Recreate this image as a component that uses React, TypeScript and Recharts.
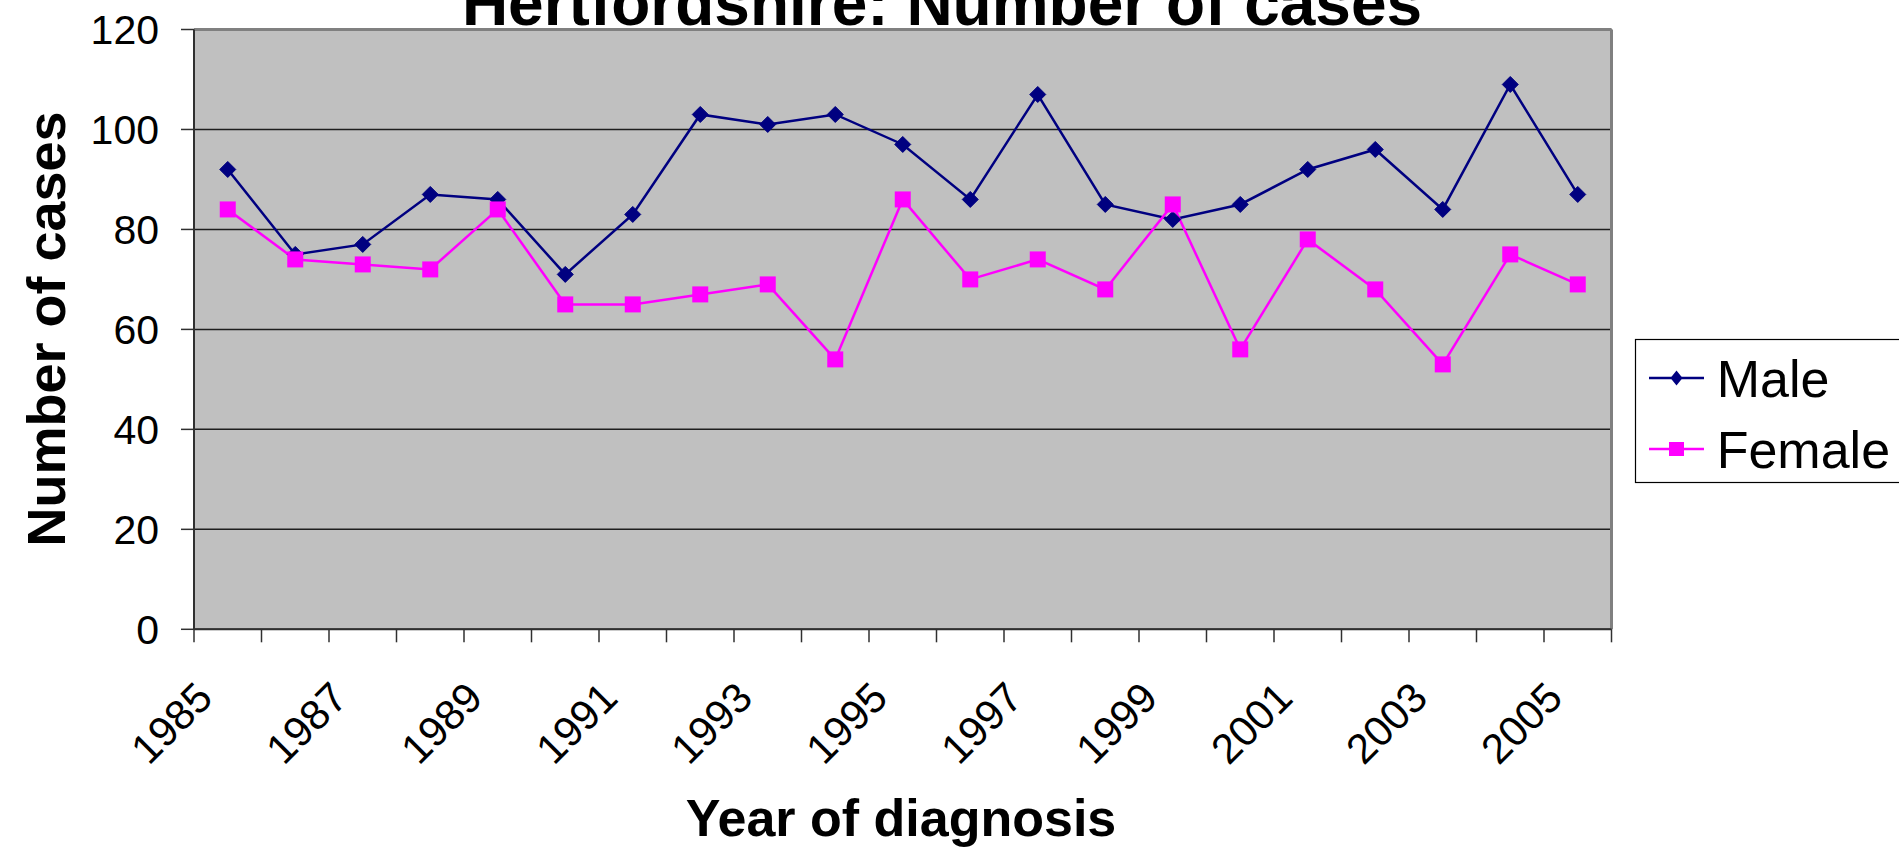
import React from 'react';
import { LineChart, Line, XAxis, YAxis, CartesianGrid, ReferenceLine, Legend } from 'recharts';

// ---------- data ----------
const years = [1985, 1986, 1987, 1988, 1989, 1990, 1991, 1992, 1993, 1994, 1995, 1996, 1997, 1998, 1999, 2000, 2001, 2002, 2003, 2004, 2005];
const maleCases = [92, 75, 77, 87, 86, 71, 83, 103, 101, 103, 97, 86, 107, 85, 82, 85, 92, 96, 84, 109, 87];
const femaleCases = [84, 74, 73, 72, 84, 65, 65, 67, 69, 54, 86, 70, 74, 68, 85, 56, 78, 68, 53, 75, 69];
const yTicks = [0, 20, 40, 60, 80, 100, 120];
const xLabelYears = [1985, 1987, 1989, 1991, 1993, 1995, 1997, 1999, 2001, 2003, 2005];
const seriesNames = ['Male', 'Female'];
const chartTitle = 'Hertfordshire: Number of cases';
const xTitle = 'Year of diagnosis';
const yTitle = 'Number of cases';

// ---------- styles ----------
const FONT = '"Liberation Sans", Arial, sans-serif';
const NAVY = '#000080';
const MAGENTA = '#FF00FF';
const AXIS = '#303030';

const data = years.map((year, i) => ({ year, male: maleCases[i], female: femaleCases[i] }));
const boundaries = [...years.map((y) => y - 0.5), years[years.length - 1] + 0.5];
const xDomain: [number, number] = [boundaries[0], boundaries[boundaries.length - 1]];

const series = [
  { key: 'male', name: seriesNames[0], color: NAVY, marker: 'diamond' },
  { key: 'female', name: seriesNames[1], color: MAGENTA, marker: 'square' },
];

const Diamond = (props: any) => {
  const { cx, cy, index } = props;
  if (cx == null || cy == null) return <g key={`dm-${index}`} />;
  const r = 8;
  return (
    <polygon
      key={`dm-${index}`}
      points={`${cx},${cy - r} ${cx + r},${cy} ${cx},${cy + r} ${cx - r},${cy}`}
      fill={NAVY}
      stroke={NAVY}
      strokeWidth={1}
    />
  );
};

const Square = (props: any) => {
  const { cx, cy, index } = props;
  if (cx == null || cy == null) return <g key={`sq-${index}`} />;
  const r = 8;
  return <rect key={`sq-${index}`} x={cx - r} y={cy - r} width={2 * r} height={2 * r} fill={MAGENTA} />;
};

const EmptyTick = () => <g />;

const YearTick = (props: any) => {
  const { x, y, payload } = props;
  return (
    <g transform={`translate(${x - 13},${y + 70})`}>
      <text transform="rotate(-45)" textAnchor="end" fontSize={42} fill="#000" fontFamily={FONT}>
        {payload.value}
      </text>
    </g>
  );
};

const LegendBox = (props: any) => {
  const payload: any[] = props.payload ?? [];
  const ordered = series
    .map((s) => ({ cfg: s, entry: payload.find((p: any) => p.dataKey === s.key) }))
    .filter((o) => o.entry);
  return (
    <svg width={300} height={146} style={{ display: 'block', overflow: 'visible' }}>
      <rect x={0.5} y={0.5} width={298} height={143} fill="#fff" stroke="#000" strokeWidth={1.2} />
      {ordered.map(({ cfg, entry }, i) => {
        const ly = 39 + i * 71;
        const mx = 41.5;
        return (
          <g key={cfg.key}>
            <line x1={14} x2={69} y1={ly} y2={ly} stroke={cfg.color} strokeWidth={2.5} />
            {cfg.marker === 'diamond' ? (
              <polygon points={`${mx},${ly - 7.5} ${mx + 6},${ly} ${mx},${ly + 7.5} ${mx - 6},${ly}`} fill={cfg.color} />
            ) : (
              <rect x={mx - 7.5} y={ly - 7} width={15} height={14} fill={cfg.color} />
            )}
            <text x={81.7} y={ly + 18.7} fontSize={52} fontFamily={FONT} fill="#000">
              {entry.value}
            </text>
          </g>
        );
      })}
    </svg>
  );
};

export default function App() {
  return (
    <div style={{ position: 'absolute', left: 0, top: 0, width: 1899, height: 852, overflow: 'hidden', background: '#fff' }}>
      <LineChart width={1899} height={852} data={data} margin={{ top: 29.5, right: 287.5, bottom: 121.7, left: 0 }}>
        <CartesianGrid
          xAxisId={0}
          vertical={false}
          fill="#C0C0C0"
          fillOpacity={1}
          stroke="#1e1e1e"
          strokeWidth={1.5}
        />
        <XAxis
          xAxisId={0}
          dataKey="year"
          type="number"
          domain={xDomain}
          ticks={boundaries}
          interval={0}
          allowDataOverflow
          height={1}
          tickSize={13}
          tick={EmptyTick}
          axisLine={{ stroke: AXIS, strokeWidth: 2 }}
          tickLine={{ stroke: AXIS, strokeWidth: 1.5 }}
        />
        <XAxis
          xAxisId={1}
          dataKey="year"
          type="number"
          domain={xDomain}
          ticks={xLabelYears}
          interval={0}
          allowDataOverflow
          height={100}
          tickSize={0}
          tickMargin={0}
          axisLine={false}
          tickLine={false}
          tick={YearTick}
        />
        <YAxis
          type="number"
          domain={[0, 120]}
          ticks={yTicks}
          interval={0}
          width={194}
          tickSize={13}
          tickMargin={22}
          axisLine={{ stroke: AXIS, strokeWidth: 2 }}
          tickLine={{ stroke: AXIS, strokeWidth: 1.5 }}
          tick={{ fontSize: 41, fill: '#000', fontFamily: FONT }}
        />
        <ReferenceLine xAxisId={0} y={120} stroke="#808080" strokeWidth={3} />
        <ReferenceLine xAxisId={0} x={xDomain[1]} stroke="#808080" strokeWidth={3} />
        <Line
          xAxisId={0}
          dataKey="male"
          name={series[0].name}
          stroke={NAVY}
          strokeWidth={2.5}
          dot={Diamond}
          activeDot={false}
          isAnimationActive={false}
        />
        <Line
          xAxisId={0}
          dataKey="female"
          name={series[1].name}
          stroke={MAGENTA}
          strokeWidth={2.5}
          dot={Square}
          activeDot={false}
          isAnimationActive={false}
        />
        <Legend
          layout="horizontal"
          verticalAlign="middle"
          align="center"
          content={LegendBox}
          wrapperStyle={{ left: 1635, top: 339, width: 300, height: 146 }}
        />
        <text x={942} y={25} textAnchor="middle" fontSize={64} fontWeight="bold" fontFamily={FONT} fill="#000">
          {chartTitle}
        </text>
        <text transform="translate(65,329) rotate(-90)" textAnchor="middle" fontSize={54} fontWeight="bold" fontFamily={FONT} fill="#000">
          {yTitle}
        </text>
        <text x={901} y={836} textAnchor="middle" fontSize={52} fontWeight="bold" fontFamily={FONT} fill="#000">
          {xTitle}
        </text>
      </LineChart>
    </div>
  );
}
